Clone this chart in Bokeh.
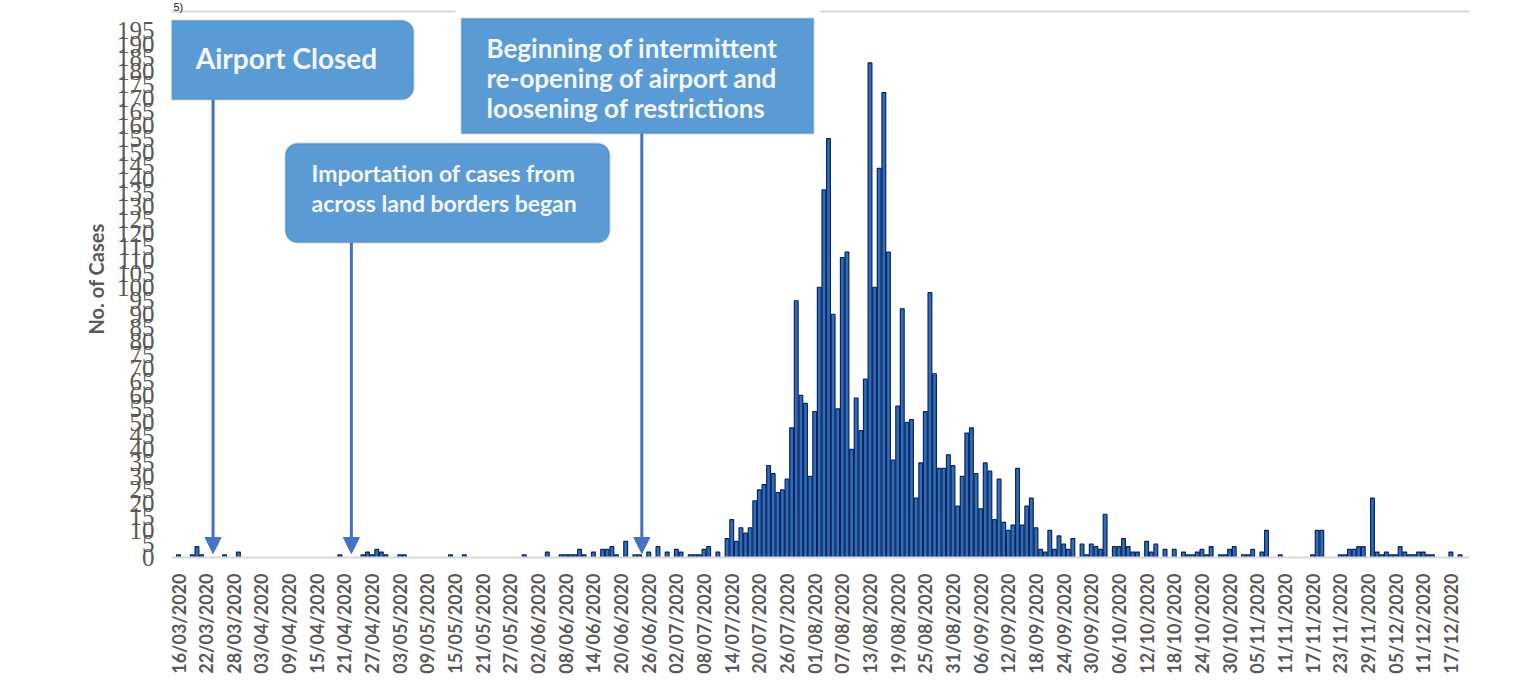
import pandas as pd
from math import pi
from bokeh.plotting import figure
from bokeh.models import (FixedTicker, Range1d, BoxAnnotation, Arrow, NormalHead, Label,
                          ColumnDataSource)
from bokeh.embed import file_html
from bokeh.resources import INLINE

# ---------------- data ----------------
start_date = "2020-03-16"
cases = [
    1, 0, 0, 1, 4, 1, 0, 0, 0, 0,
    1, 0, 0, 2, 0, 0, 0, 0, 0, 0,
    0, 0, 0, 0, 0, 0, 0, 0, 0, 0,
    0, 0, 0, 0, 0, 1, 0, 0, 0, 0,
    1, 2, 1, 3, 2, 1, 0, 0, 1, 1,
    0, 0, 0, 0, 0, 0, 0, 0, 0, 1,
    0, 0, 1, 0, 0, 0, 0, 0, 0, 0,
    0, 0, 0, 0, 0, 1, 0, 0, 0, 0,
    2, 0, 0, 1, 1, 1, 1, 3, 1, 0,
    2, 0, 3, 3, 4, 1, 0, 6, 0, 1,
    1, 0, 2, 0, 4, 0, 2, 0, 3, 2,
    0, 1, 1, 1, 3, 4, 0, 2, 0, 7,
    14, 6, 11, 9, 11, 21, 25, 27, 34, 31,
    24, 25, 29, 48, 95, 60, 57, 30, 54, 100,
    136, 155, 90, 55, 111, 113, 40, 59, 47, 66,
    183, 100, 144, 172, 113, 36, 56, 92, 50, 51,
    22, 35, 54, 98, 68, 33, 33, 38, 34, 19,
    30, 46, 48, 31, 18, 35, 32, 14, 29, 13,
    10, 12, 33, 12, 19, 22, 11, 3, 2, 10,
    3, 8, 5, 3, 7, 0, 5, 1, 5, 4,
    3, 16, 0, 4, 4, 7, 4, 2, 2, 0,
    6, 2, 5, 0, 3, 0, 3, 0, 2, 1,
    1, 2, 3, 1, 4, 0, 1, 1, 3, 4,
    0, 1, 1, 3, 0, 2, 10, 0, 0, 1,
    0, 0, 0, 0, 0, 0, 1, 10, 10, 0,
    0, 0, 1, 1, 3, 3, 4, 4, 0, 22,
    2, 1, 2, 1, 1, 4, 2, 1, 1, 2,
    2, 1, 1, 0, 0, 0, 2, 0, 1,
]
tick_step_days = 6
y_ticks = list(range(0, 200, 5))
y_axis_title = "No. of Cases"
panel_tag = "5)"

event_dates = ["2020-03-23", "2020-04-22", "2020-06-24"]
event_texts = [
    ["Airport Closed"],
    ["Importation of cases from", "across land borders began"],
    ["Beginning of intermittent", "re-opening of airport and", "loosening of restrictions"],
]

dates = pd.date_range(start_date, periods=len(cases), freq="D")
day_index = list(range(len(cases)))
tick_days = list(range(0, len(cases), tick_step_days))
tick_labels = {d: dates[d].strftime("%d/%m/%Y") for d in tick_days}
event_days = [(pd.Timestamp(d) - pd.Timestamp(start_date)).days + 0.5 for d in event_dates]

nz = [i for i, v in enumerate(cases) if v > 0]
src = ColumnDataSource(dict(x=[day_index[i] for i in nz], top=[cases[i] for i in nz]))

# ---------------- geometry (canvas px) ----------------
W, H = 1510, 692
FL, FR, FT, FB = 171, 1469, 0, 557
PX_DAY = 4.61
DAY0 = 178
PX_UNIT = 527 / 195.0
x0 = -(DAY0 - FL) / PX_DAY
x1 = (FR - DAY0) / PX_DAY
y1 = (FB - FT) / PX_UNIT


def Y(py):
    return (FB - py) / PX_UNIT


p = figure(width=W, height=H, x_range=Range1d(x0, x1), y_range=Range1d(0, y1),
           output_backend="svg", toolbar_location=None,
           min_border_left=FL, min_border_right=W - FR, min_border_top=FT,
           min_border_bottom=H - FB)
p.outline_line_color = None
p.grid.visible = False
p.background_fill_color = "white"
p.border_fill_color = "white"

p.vbar(x="x", top="top", width=0.82, source=src,
       fill_color="#2F6DB5", line_color="#0B2463", line_width=1.2)

# x axis
xa = p.xaxis[0]
xa.ticker = FixedTicker(ticks=tick_days)
xa.major_label_overrides = tick_labels
xa.major_label_orientation = pi / 2
xa.major_label_text_font = "Lato"
xa.major_label_text_font_style = "bold"
xa.major_label_text_font_size = "18px"
xa.major_label_text_color = "#595959"
xa.major_label_standoff = 10
xa.axis_line_color = "#D9D9D9"
xa.axis_line_width = 2
xa.major_tick_line_color = None
xa.minor_tick_line_color = None

# y axis
ya = p.yaxis[0]
ya.ticker = FixedTicker(ticks=y_ticks)
ya.major_label_text_font = "Liberation Sans Narrow"
ya.major_label_text_font_size = "25px"
ya.major_label_text_color = "#595959"
ya.major_label_standoff = 11
ya.axis_line_color = None
ya.major_tick_line_color = None
ya.minor_tick_line_color = None
ya.axis_label = y_axis_title
ya.axis_label_text_font = "Lato"
ya.axis_label_text_font_style = "bold"
ya.axis_label_text_font_size = "20px"
ya.axis_label_text_color = "#595959"
ya.axis_label_standoff = 6

# top border line of the source image and its cut-off panel tag
for l, r in [(0, 455), (820, W)]:
    p.add_layout(BoxAnnotation(left=l, right=r, top=10, bottom=12,
                               left_units="canvas", right_units="canvas",
                               top_units="canvas", bottom_units="canvas",
                               fill_color="#D9D9D9", fill_alpha=1, line_color=None))
p.add_layout(Label(x=173, y=0, x_units="canvas", y_units="canvas", text=panel_tag,
                   text_font="Liberation Sans", text_font_size="11px", text_color="#262626",
                   text_align="left", text_baseline="top"))

ARROW_C = "#4472C4"
BOX_FILL = "#5B9BD5"
BOX_LINE = "#41719C"
# (left, right, top, bottom, radius) canvas px
boxes = [(158, 413, 20, 99, 12), (285, 609, 143, 242, 12), (461, 813, 18, 133, 0)]
for (l, r, t, b, rad), ex in zip(boxes, event_days):
    p.add_layout(Arrow(end=NormalHead(size=16, fill_color=ARROW_C, line_color=ARROW_C),
                       x_start=ex, y_start=Y(b), x_end=ex, y_end=Y(553),
                       line_color=ARROW_C, line_width=3))
    p.add_layout(BoxAnnotation(left=l, right=r, top=t, bottom=b,
                               left_units="canvas", right_units="canvas",
                               top_units="canvas", bottom_units="canvas",
                               fill_color=BOX_FILL, fill_alpha=1, line_color=BOX_LINE,
                               line_width=2, border_radius=rad))

# texts: (x, first line y, line step, size, align)
text_layout = [(286, 57, 30, "28px", "center"), (311, 172, 30, "23px", "left"),
               (486, 47, 30, "26px", "left")]
for lines, (tx, ty, step, size, align) in zip(event_texts, text_layout):
    for k, line in enumerate(lines):
        p.add_layout(Label(x=tx, y=ty + k * step, x_units="canvas", y_units="canvas",
                           text=line, text_font="Lato",
                           text_font_style="bold", text_font_size=size,
                           text_color="#F4F7FB", text_align=align, text_baseline="middle"))

open("out.html", "w").write(file_html(p, INLINE))
